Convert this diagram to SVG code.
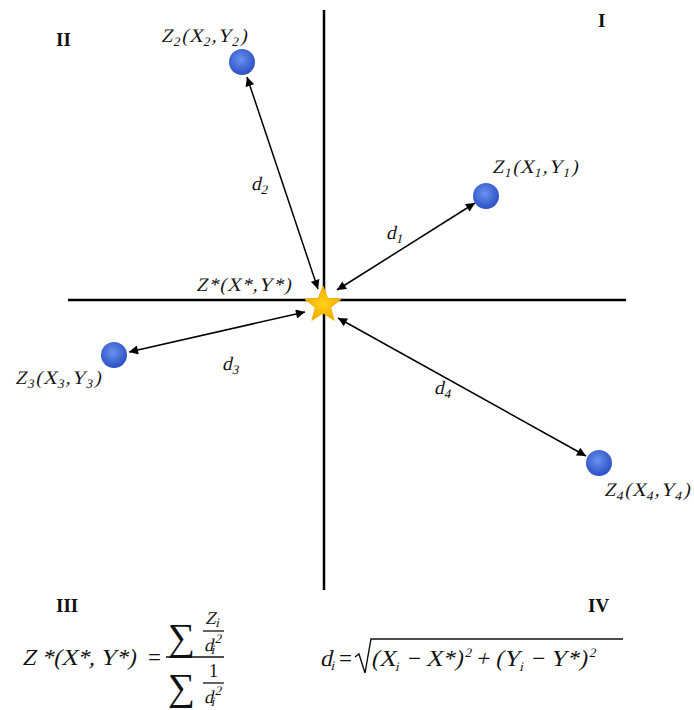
<svg xmlns="http://www.w3.org/2000/svg" width="694" height="710" viewBox="0 0 694 710">
<style>
.ax{stroke:#000;stroke-width:2.5;fill:none}
.cn{stroke:#000;stroke-width:1.5;fill:none;marker-start:url(#ah);marker-end:url(#ah)}
.lbl{font-family:"Liberation Serif","Times New Roman",serif;font-size:19px;fill:#111;letter-spacing:1.2px}
.sub{font-size:13px}
.rom{font-family:"Liberation Serif","Times New Roman",serif;font-weight:bold;font-size:19px;fill:#111}
.m{font-family:"Liberation Serif","Times New Roman",serif;font-size:23px;fill:#111}
.mf{font-family:"Liberation Serif","Times New Roman",serif;font-size:18px;fill:#111}
.ms{font-size:13px}
.sig{font-family:"Liberation Serif","Times New Roman",serif;font-size:38px;fill:#111}
.bar{stroke:#111;stroke-width:1.3}
.pt{fill:url(#bg)}
</style>
<defs>
<radialGradient id="bg" cx="45%" cy="40%" r="60%">
<stop offset="0" stop-color="#6a92f0"/>
<stop offset="1" stop-color="#2c4fc4"/>
</radialGradient>
<radialGradient id="sg" cx="50%" cy="50%" r="55%">
<stop offset="0" stop-color="#ffd21a"/>
<stop offset="1" stop-color="#f5a800"/>
</radialGradient>
<marker id="ah" viewBox="0 0 10 10" refX="10" refY="5" markerWidth="11" markerHeight="9" markerUnits="userSpaceOnUse" orient="auto-start-reverse">
<path d="M0,0 L10,5 L0,10 z" fill="#000"/>
</marker>
</defs>

<g id="axes">
<line class="ax" x1="324" y1="10" x2="324" y2="590"/>
<line class="ax" x1="68" y1="300" x2="626" y2="300"/>
</g>

<g id="connectors">
<line class="cn" x1="247" y1="77" x2="318" y2="289"/>
<line class="cn" x1="475" y1="203" x2="337" y2="290"/>
<line class="cn" x1="129" y1="352" x2="305" y2="312"/>
<line class="cn" x1="338" y1="318" x2="586" y2="456"/>
<text class="lbl" transform="translate(251,190) skewX(-13)">d<tspan class="sub" dy="4">2</tspan></text>
<text class="lbl" transform="translate(386,239) skewX(-13)">d<tspan class="sub" dy="4">1</tspan></text>
<text class="lbl" transform="translate(222,370) skewX(-13)">d<tspan class="sub" dy="4">3</tspan></text>
<text class="lbl" transform="translate(434,394) skewX(-13)">d<tspan class="sub" dy="4">4</tspan></text>
</g>

<g id="quadrants">
<text class="rom" x="56" y="46">II</text>
<text class="rom" x="598" y="27">I</text>
<text class="rom" x="56" y="612">III</text>
<text class="rom" x="588" y="612">IV</text>
</g>

<g id="Z2">
<circle class="pt" cx="242" cy="62" r="13"/>
<text class="lbl" transform="translate(161,42) skewX(-13)">Z<tspan class="sub" dy="4">2</tspan><tspan dy="-4">(X</tspan><tspan class="sub" dy="4">2</tspan><tspan dy="-4">,Y</tspan><tspan class="sub" dy="4">2</tspan><tspan dy="-4">)</tspan></text>
</g>

<g id="Z1">
<circle class="pt" cx="486" cy="196" r="13"/>
<text class="lbl" transform="translate(492,173) skewX(-13)">Z<tspan class="sub" dy="4">1</tspan><tspan dy="-4">(X</tspan><tspan class="sub" dy="4">1</tspan><tspan dy="-4">,Y</tspan><tspan class="sub" dy="4">1</tspan><tspan dy="-4">)</tspan></text>
</g>

<g id="Z3">
<circle class="pt" cx="114" cy="355" r="13"/>
<text class="lbl" transform="translate(15,384) skewX(-13)">Z<tspan class="sub" dy="4">3</tspan><tspan dy="-4">(X</tspan><tspan class="sub" dy="4">3</tspan><tspan dy="-4">,Y</tspan><tspan class="sub" dy="4">3</tspan><tspan dy="-4">)</tspan></text>
</g>

<g id="Z4">
<circle class="pt" cx="599" cy="463" r="13"/>
<text class="lbl" transform="translate(604,496) skewX(-13)" font-size="18" letter-spacing="0">Z<tspan class="sub" dy="4">4</tspan><tspan dy="-4">(X</tspan><tspan class="sub" dy="4">4</tspan><tspan dy="-4">,Y</tspan><tspan class="sub" dy="4">4</tspan><tspan dy="-4">)</tspan></text>
</g>

<g id="Zstar">
<polygon points="323,286 327.7,298.53 341.07,299.13 330.61,307.47 334.17,320.37 323,313 311.83,320.37 315.39,307.47 304.93,299.13 318.3,298.53" fill="url(#sg)" stroke="#f2b400" stroke-width="1"/>
<text class="lbl" transform="translate(196,291) skewX(-13)">Z*(X*,Y*)</text>
</g>

<g id="formula-left">
<text class="m" transform="translate(22,665) skewX(-13)">Z *(X*, Y*)</text>
<text class="m" x="148" y="665">=</text>
<line class="bar" x1="166" y1="657" x2="224" y2="657"/>
<text class="sig" x="168" y="650">∑</text>
<text class="mf" transform="translate(205,624) skewX(-13)">Z<tspan class="ms" dy="3">i</tspan></text>
<line class="bar" x1="203" y1="631" x2="224" y2="631"/>
<text class="mf" transform="translate(204,651) skewX(-13)">d<tspan class="ms" dy="-8">2</tspan><tspan class="ms" dx="-8" dy="11">i</tspan></text>
<text class="sig" x="168" y="700">∑</text>
<text class="mf" x="209" y="677">1</text>
<line class="bar" x1="203" y1="683" x2="224" y2="683"/>
<text class="mf" transform="translate(204,703) skewX(-13)">d<tspan class="ms" dy="-8">2</tspan><tspan class="ms" dx="-8" dy="11">i</tspan></text>
</g>

<g id="formula-right">
<text class="m" transform="translate(320,666) skewX(-13)">d<tspan class="ms" dy="4">i</tspan></text>
<text class="m" x="339" y="666">=</text>
<polyline points="355,657 359,654 365,673 371,639 623,639" fill="none" stroke="#111" stroke-width="1.4"/>
<text class="m" transform="translate(371,666) skewX(-13)" letter-spacing="0.4">(X<tspan class="ms" dy="5">i</tspan><tspan dy="-5"> − </tspan>X*)<tspan class="ms" dy="-9">2</tspan><tspan dy="9"> + </tspan>(Y<tspan class="ms" dy="5">i</tspan><tspan dy="-5"> − </tspan>Y*)<tspan class="ms" dy="-9">2</tspan></text>
</g>
</svg>
